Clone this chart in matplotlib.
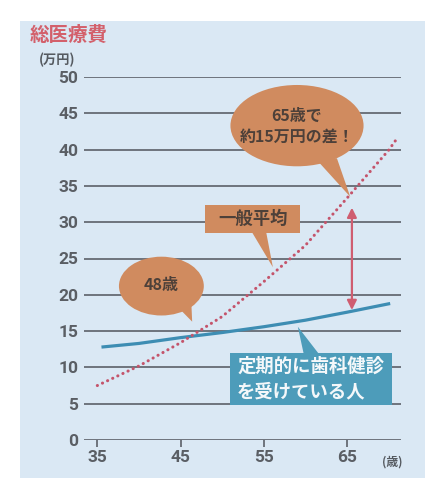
import numpy as np
import matplotlib
matplotlib.use("Agg")
import matplotlib.pyplot as plt
from matplotlib.patches import Ellipse, Polygon, Rectangle, FancyArrowPatch

plt.rcParams['font.family'] = ['Noto Sans CJK JP', 'DejaVu Sans']

# data (age -> total medical cost, 10k yen)
ages_avg = [35, 40, 45, 50, 55, 60, 65, 70, 71]
cost_avg = [7.5, 10.2, 13.4, 17.0, 21.8, 26.8, 33.3, 39.9, 41.5]
ages_dental = [35.5, 40, 45, 50, 55, 60, 65, 70.2]
cost_dental = [12.8, 13.3, 14.1, 14.8, 15.6, 16.5, 17.6, 18.8]

x_ticks = [35, 45, 55, 65]
y_ticks = [0, 5, 10, 15, 20, 25, 30, 35, 40, 45, 50]

title = "総医療費"
y_unit = "(万円)"
x_unit = "(歳)"
label_gap = "65歳で\n約15万円の差！"
label_cross = "48歳"
label_avg = "一般平均"
label_dental = "定期的に歯科健診\nを受けている人"

panel_c = "#dae8f4"
grid_c = "#5b6068"
orange = "#d08b5f"
blue_box = "#4d9cba"
blue_line = "#3d8db3"
red_dot = "#c4546b"
txt_dark = "#4d4039"

W, H = 425, 478
fig = plt.figure(figsize=(W / 100, H / 100), dpi=100)
fig.patch.set_facecolor("white")
fig.add_artist(Rectangle((20 / W, 0), 1, 1 - 21 / H, transform=fig.transFigure,
                         facecolor=panel_c, edgecolor="none", zorder=-10))

ax = fig.add_axes([84 / W, 38 / H, 317 / W, 363 / H])
ax.set_facecolor("none")
ax.set_xlim(33.4, 71.5)
ax.set_ylim(0, 50)
for s in ax.spines.values():
    s.set_visible(False)

for v in y_ticks:
    ax.axhline(v, color=grid_c, lw=1.2, zorder=1)

ax.set_xticks(x_ticks)
ax.set_yticks(y_ticks)
ax.tick_params(axis="x", length=5, width=1.2, color=grid_c, pad=2, direction="out")
ax.tick_params(axis="y", length=0, pad=4)
for lab in ax.get_xticklabels() + ax.get_yticklabels():
    lab.set_family(["Roboto", "DejaVu Sans"])
    lab.set_fontweight("bold")
    lab.set_fontsize(12.5)
    lab.set_color("#5a5e64")

# lines
ax.plot(ages_dental, cost_dental, color=blue_line, lw=2.3, solid_capstyle="butt", zorder=3)
ax.plot(ages_avg, cost_avg, color=red_dot, lw=2.2, linestyle=(0, (0.05, 1.8)),
        dash_capstyle="round", zorder=3)

# speech bubble: gap at 65
ax.add_patch(Polygon([(61.2, 38.8), (63.8, 38.8), (65.4, 33.5)], closed=True,
                     facecolor=orange, edgecolor="none", zorder=4))
ax.add_patch(Ellipse((59.0, 43.3), 16.0, 11.2, facecolor=orange, edgecolor="none", zorder=4))
ax.text(59.0, 43.2, label_gap, ha="center", va="center", fontsize=11.5,
        fontweight="bold", color=txt_dark, linespacing=1.35, zorder=5)

# speech bubble: 48
ax.add_patch(Polygon([(44.6, 18.4), (46.3, 18.9), (46.4, 16.3)], closed=True,
                     facecolor=orange, edgecolor="none", zorder=4))
ax.add_patch(Ellipse((42.7, 21.2), 10.2, 8.1, facecolor=orange, edgecolor="none", zorder=4))
ax.text(42.7, 21.3, label_cross, ha="center", va="center", fontsize=11.5,
        fontweight="bold", color=txt_dark, zorder=5)

# box: general average
ax.add_patch(Rectangle((48.0, 28.5), 11.4, 3.9, facecolor=orange, edgecolor="none", zorder=4))
ax.add_patch(Polygon([(53.6, 28.6), (55.3, 28.6), (56.1, 23.8)], closed=True,
                     facecolor=orange, edgecolor="none", zorder=4))
ax.text(53.7, 30.45, label_avg, ha="center", va="center", fontsize=12.5,
        fontweight="bold", color=txt_dark, zorder=5)

# box: regular dental checkup
ax.add_patch(Rectangle((51.0, 4.8), 19.4, 7.2, facecolor=blue_box, edgecolor="none", zorder=4))
ax.add_patch(Polygon([(59.8, 11.9), (61.6, 11.9), (59.1, 15.6)], closed=True,
                     facecolor=blue_box, edgecolor="none", zorder=4))
ax.text(51.8, 8.4, label_dental, ha="left", va="center", fontsize=13.2,
        fontweight="bold", color="#f4f8fa", linespacing=1.4, zorder=5)

# double arrow for difference
ax.add_patch(FancyArrowPatch((65.6, 17.9), (65.6, 32.0), arrowstyle="<|-|>",
                             mutation_scale=14, color="#cf5d70", lw=1.6,
                             shrinkA=0, shrinkB=0, zorder=5))

fig.text(30 / W, 1 - 35 / H, title, ha="left", va="center", fontsize=14,
         fontweight="bold", color="#d3606b")
fig.text(39 / W, 1 - 60 / H, y_unit, ha="left", va="center", fontsize=9.5,
         fontweight="bold", color="#555a60")
fig.text(392 / W, 1 - 462 / H, x_unit, ha="center", va="center", fontsize=8.5,
         fontweight="bold", color="#555a60")

fig.savefig("out.png", dpi=100, facecolor="white")
